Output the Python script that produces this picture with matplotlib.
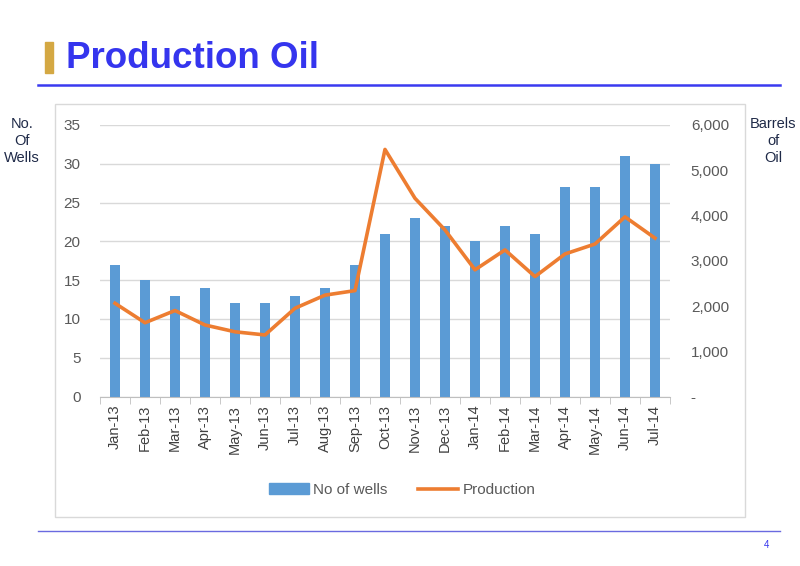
import matplotlib.pyplot as plt
from matplotlib.patches import Rectangle, Patch
from matplotlib.lines import Line2D
from matplotlib.ticker import FuncFormatter, FixedLocator
import numpy as np

plt.rcParams['font.family'] = ['Liberation Sans', 'DejaVu Sans']

months = ["Jan-13", "Feb-13", "Mar-13", "Apr-13", "May-13", "Jun-13", "Jul-13",
          "Aug-13", "Sep-13", "Oct-13", "Nov-13", "Dec-13", "Jan-14", "Feb-14",
          "Mar-14", "Apr-14", "May-14", "Jun-14", "Jul-14"]
wells = [17, 15, 13, 14, 12, 12, 13, 14, 17, 21, 23, 22, 20, 22, 21, 27, 27, 31, 30]
production = [2060, 1630, 1900, 1580, 1430, 1360, 1950, 2240, 2340, 5460,
              4380, 3680, 2800, 3240, 2650, 3150, 3370, 3970, 3500]

W, H = 800, 566
fig = plt.figure(figsize=(8, 5.66), dpi=100)

def fx(px):
    return px / W

def fy(py):
    return 1 - py / H

# slide title decorations
fig.patches.append(Rectangle((fx(45), fy(73)), fx(8), (73 - 42) / H,
                             transform=fig.transFigure, color="#d4a843"))
fig.text(fx(66), fy(58), "Production Oil", fontsize=26.5, fontweight="bold",
         color="#3535ee", va="center", ha="left")
fig.add_artist(Line2D([fx(38), fx(780)], [fy(85), fy(85)], color="#3a3af0", lw=1.8))
fig.add_artist(Line2D([fx(38), fx(780)], [fy(531), fy(531)], color="#6a6ae0", lw=1))
fig.text(fx(767), fy(545), "4", fontsize=7, color="#3535ee", ha="center", va="center")

# chart frame
fig.patches.append(Rectangle((fx(55), fy(517)), fx(745 - 55), (517 - 104) / H,
                             transform=fig.transFigure, fill=False,
                             edgecolor="#d9d9d9", lw=1))

fig.text(fx(22), fy(141), "No.\nOf\nWells", fontsize=10.5, color="#1f2a48",
         ha="center", va="center", linespacing=1.3)
fig.text(fx(773), fy(141), "Barrels\nof\nOil", fontsize=10.5, color="#1f2a48",
         ha="center", va="center", linespacing=1.3)

ax = fig.add_axes([fx(100), fy(396.5), fx(670 - 100), (396.5 - 125) / H])
ax2 = ax.twinx()

x = np.arange(len(months))
ax.bar(x, wells, width=0.31, color="#5b9bd5", zorder=2)
ax2.plot(x, production, color="#ed7d31", lw=2.6, solid_joinstyle="round")

ax.set_xlim(-0.5, len(months) - 0.5)
ax.set_ylim(0, 35)
ax2.set_ylim(0, 6000)
ax.set_yticks(range(0, 36, 5))
ax2.set_yticks(range(0, 6001, 1000))
ax2.yaxis.set_major_formatter(FuncFormatter(lambda v, p: "-" if v == 0 else f"{int(v):,}"))

ax.grid(axis="y", color="#d9d9d9", lw=1, zorder=0)
ax.set_axisbelow(True)

for a in (ax, ax2):
    for s in ("top", "left", "right", "bottom"):
        a.spines[s].set_visible(False)
ax.spines["bottom"].set_visible(True)
ax.spines["bottom"].set_color("#bfbfbf")

ax.set_xticks(x)
ax.set_xticklabels(months, rotation=90, fontsize=10.5, color="#404040")
ax.tick_params(axis="x", which="major", length=0, pad=6)
ax.xaxis.set_minor_locator(FixedLocator(np.arange(-0.5, len(months), 1)))
ax.tick_params(axis="x", which="minor", length=5, color="#bfbfbf")
ax.tick_params(axis="y", length=0, labelsize=11, labelcolor="#595959", pad=14)
ax2.tick_params(axis="y", length=0, labelsize=11, labelcolor="#595959", pad=15)

handles = [Patch(color="#5b9bd5"), Line2D([0], [0], color="#ed7d31", lw=2.6)]
fig.legend(handles, ["No of wells", "Production"], loc="center",
           bbox_to_anchor=(fx(402), fy(490)), ncol=2, frameon=False,
           fontsize=11, labelcolor="#595959", handlelength=2.6,
           handletextpad=0.3, columnspacing=2.0)

fig.savefig("out.png", dpi=100)
